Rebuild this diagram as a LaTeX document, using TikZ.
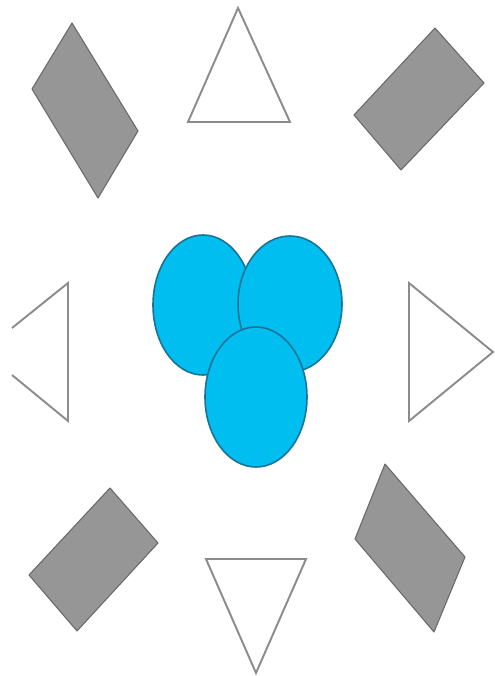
\documentclass[tikz,border=0pt]{standalone}
\usepackage{xcolor}
\usepackage{tikz}
\definecolor{cellblue}{RGB}{0,190,240}
\definecolor{cellrim}{RGB}{25,115,150}
\definecolor{slab}{RGB}{150,150,150}
\definecolor{slabrim}{RGB}{105,105,105}
\definecolor{wedge}{RGB}{140,140,140}

\begin{document}
\begin{tikzpicture}[x=0.02cm,y=-0.02cm,
    block/.style={fill=slab,draw=slabrim,line width=0.6pt,line join=round},
    wedgeline/.style={draw=wedge,line width=1.1pt,line join=miter},
    cell/.style={fill=cellblue,draw=cellrim,line width=0.9pt}]
    \fill[white] (0,0) rectangle (494,676);
    \useasboundingbox (0,0) rectangle (494,676);
    % grey blocks in the corners
    \draw[block] (72,23) -- (138,131) -- (98,198) -- (32,89) -- cycle;
    \draw[block] (435,28) -- (484,83) -- (401,170) -- (354,115) -- cycle;
    \draw[block] (110,488) -- (158,543) -- (77,631) -- (29,575) -- cycle;
    \draw[block] (385,464) -- (465,557) -- (434,632) -- (355,539) -- cycle;
    % open triangles
    \draw[wedgeline] (238,8) -- (290,122) -- (188,122) -- cycle;
    \draw[wedgeline] (206,559) -- (306,559) -- (256,673) -- cycle;
    \draw[wedgeline] (409,283) -- (493,352) -- (409,421) -- cycle;
    \draw[wedgeline] (12,328) -- (68,283) -- (68,421) -- (12,375);
    % three cells
    \draw[cell] (203,305) ellipse [x radius=50,y radius=70];
    \draw[cell] (290,304) ellipse [x radius=52,y radius=68];
    \draw[cell] (256,397) ellipse [x radius=51,y radius=70];
\end{tikzpicture}
\end{document}
